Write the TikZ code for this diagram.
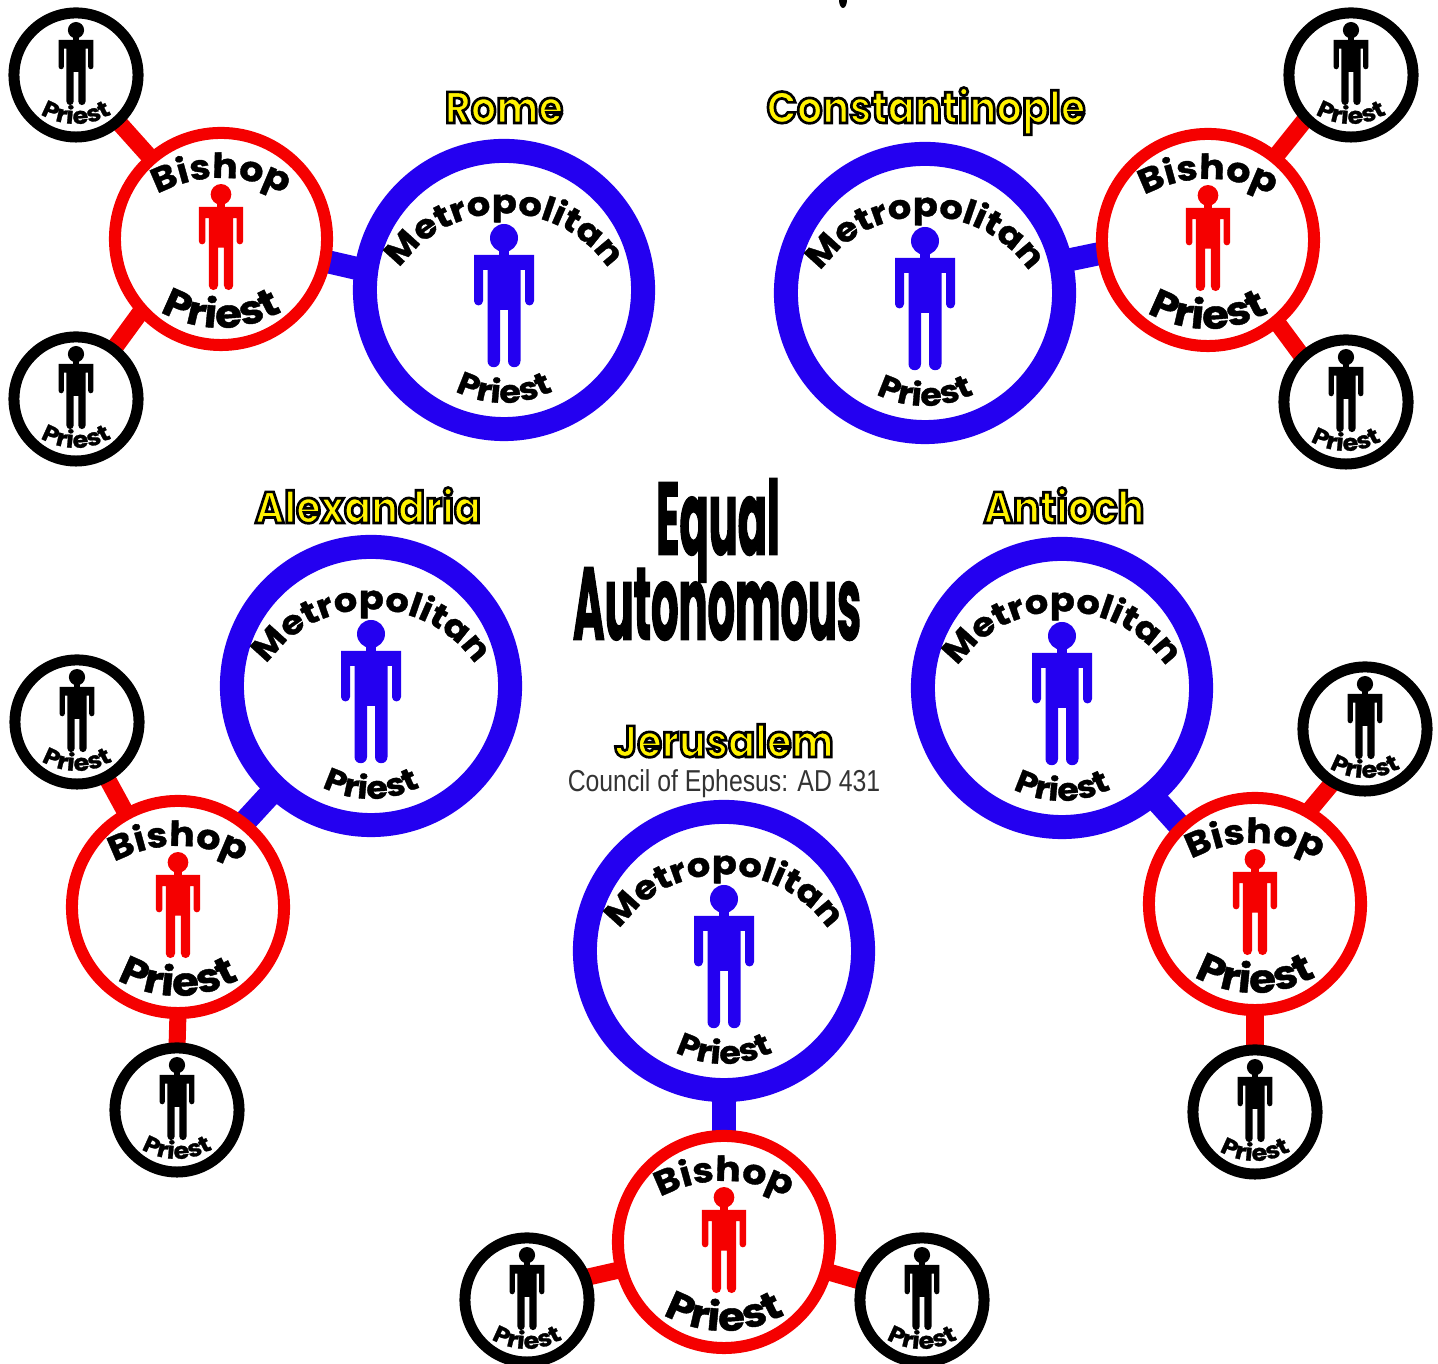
\documentclass[tikz,border=0pt]{standalone}
\usepackage{fontspec}
\usetikzlibrary{backgrounds,decorations.text}
\setmainfont{Poppins}
\newfontface\plainfont{Liberation Sans}[FakeStretch=0.82]
\newfontface\titleface{Poppins Bold}[FakeStretch=0.9,FakeBold=6]
\newfontface\heavyface{Poppins Bold}[FakeStretch=0.415,FakeBold=1]
\newfontface\wideface{Poppins Bold}[FakeStretch=1.1,FakeBold=1]
\newcommand{\metrofont}{\wideface\fontsize{9.5}{12}\selectfont}
\newcommand{\bishopfont}{\wideface\fontsize{9.8}{12}\selectfont}
\newcommand{\bigpriestfont}{\wideface\fontsize{11.3}{12}\selectfont}
\newcommand{\midpriestfont}{\wideface\fontsize{9}{10}\selectfont}
\newcommand{\smallpriestfont}{\wideface\fontsize{6.6}{8}\selectfont}
\newcommand{\citytext}[1]{{\color{yellow}\special{pdf:code 0 0 0 RG}#1}}
\definecolor{metroblue}{HTML}{2400F0}
\definecolor{bishopred}{HTML}{F50000}
\tikzset{
	x=0.01cm, y=0.01cm,
	curved/.style={postaction={decorate},decoration={text along path,text={#1},text align=center}},
	ring/.style={circle,draw,fill=white,inner sep=0pt,outer sep=0pt},
	metroring/.style={ring,draw=metroblue,line width=0.24cm,minimum size=2.78cm},
	bishopring/.style={ring,draw=bishopred,line width=0.12cm,minimum size=2.12cm},
	priestring/.style={ring,draw=black,line width=0.11cm,minimum size=1.24cm},
	bluelink/.style={metroblue,line width=0.23cm,shorten <=-2pt,shorten >=-2pt},
	redlink/.style={bishopred,line width=0.17cm,shorten <=-2pt,shorten >=-2pt},
	cityname/.style={font=\titleface\fontsize{12.6}{14}\selectfont,anchor=base,inner sep=0pt},
	heavyline/.style={font=\heavyface\fontsize{29.5}{32}\selectfont,anchor=base,inner sep=0pt},
	person/.pic={
		\fill (0,17) circle[radius=14];
		\fill (-5,-2) rectangle (5,8);
		\fill (-30,0) -- (-30,-46) arc[start angle=180,end angle=360,radius=4.5] -- (-21,-15) -- (-16.5,-15)
			-- (-16.5,-106) arc[start angle=180,end angle=360,radius=6.25] -- (-4,-55) -- (4,-55)
			-- (4,-106) arc[start angle=180,end angle=360,radius=6.25] -- (16.5,-15) -- (21,-15)
			-- (21,-46) arc[start angle=180,end angle=360,radius=4.5] -- (30,0) -- cycle;
	},
	metro/.pic={
		\node[metroring] (-ring) at (0,0) {};
		\pic[metroblue] at (0,35) {person};
		\path[curved={|\metrofont|Metropolitan}] (0,-50) ++(150:126.5) arc[start angle=150,end angle=30,radius=126.5];
		\path[curved={|\midpriestfont|Priest}] (0,-7) ++(240:106) arc[start angle=240,end angle=300,radius=106];
	},
	bishop/.pic={
		\node[bishopring] (-ring) at (0,0) {};
		\pic[bishopred,scale=0.74] at (0,32) {person};
		\path[curved={|\bishopfont|Bishop}] (0,-72) ++(120:133) arc[start angle=120,end angle=60,radius=133];
		\path[curved={|\bigpriestfont|Priest}] (0,31) ++(240:120) arc[start angle=240,end angle=300,radius=120];
	},
	priest/.pic={
		\node[priestring] (-ring) at (0,0) {};
		\pic[black,scale=0.58] at (0,35) {person};
		\path[curved={|\smallpriestfont|Priest}] (0,20) ++(240:69) arc[start angle=240,end angle=300,radius=69];
	},
}
\begin{document}
\begin{tikzpicture}
	\useasboundingbox (0,0) rectangle (1438,1364);
	% remains of the cut off title
	\fill (843,1364) ellipse[x radius=4,y radius=8];
	% Rome
	\pic (rome) at (504,1074) {metro};
	\pic (romebishop) at (221,1125) {bishop};
	\pic (romeupper) at (76,1289) {priest};
	\pic (romelower) at (76,965) {priest};
	\node[cityname] (romename) at (504,1241) {\citytext{Rome}};
	% Constantinople
	\pic (const) at (925,1071) {metro};
	\pic (constbishop) at (1208,1124) {bishop};
	\pic (constupper) at (1351,1289) {priest};
	\pic (constlower) at (1346,962) {priest};
	\node[cityname] (constname) at (926,1241) {\citytext{Constantinople}};
	% Alexandria
	\pic (alex) at (371,678) {metro};
	\pic (alexbishop) at (178,457) {bishop};
	\pic (alexupper) at (77,642) {priest};
	\pic (alexlower) at (177,254) {priest};
	\node[cityname] (alexname) at (368,841) {\citytext{Alexandria}};
	% Antioch
	\pic (anti) at (1062,676) {metro};
	\pic (antibishop) at (1255,460) {bishop};
	\pic (antiupper) at (1365,635) {priest};
	\pic (antilower) at (1255,252) {priest};
	\node[cityname] (antiname) at (1064,841) {\citytext{Antioch}};
	% Jerusalem
	\pic (jeru) at (724,413) {metro};
	\pic (jerubishop) at (724,122) {bishop};
	\pic (jeruleft) at (527,64) {priest};
	\pic (jeruright) at (922,64) {priest};
	\node[cityname] (jeruname) at (724,607) {\citytext{Jerusalem}};
	\node[font=\plainfont\fontsize{8.6}{10}\selectfont,text=black!80,anchor=base,inner sep=0pt] (council) at (724,572) {Council of Ephesus: AD 431};
	% centre
	\node[heavyline] (equal) at (718,809) {Equal};
	\node[heavyline] (autonomous) at (717,724) {Autonomous};
	% connectors
	\begin{scope}[on background layer]
		\draw[bluelink] (rome-ring.172) -- (romebishop-ring.-12);
		\draw[redlink] (romebishop-ring.131) -- (romeupper-ring.-48);
		\draw[redlink] (romebishop-ring.222) -- (romelower-ring.53);
		\draw[bluelink] (const-ring.13) -- (constbishop-ring.187);
		\draw[redlink] (constbishop-ring.51) -- (constupper-ring.224);
		\draw[redlink] (constbishop-ring.-50) -- (constlower-ring.134);
		\draw[bluelink] (alex-ring.227) -- (alexbishop-ring.52);
		\draw[redlink] (alexbishop-ring.119) -- (alexupper-ring.-62);
		\draw[redlink] (alexbishop-ring.-90) -- (alexlower-ring.90);
		\draw[bluelink] (anti-ring.-50) -- (antibishop-ring.134);
		\draw[redlink] (antibishop-ring.60) -- (antiupper-ring.239);
		\draw[redlink] (antibishop-ring.-90) -- (antilower-ring.90);
		\draw[bluelink] (jeru-ring.-90) -- (jerubishop-ring.90);
		\draw[redlink] (jerubishop-ring.195) -- (jeruleft-ring.21);
		\draw[redlink] (jerubishop-ring.-16) -- (jeruright-ring.163);
	\end{scope}
\end{tikzpicture}
\end{document}
